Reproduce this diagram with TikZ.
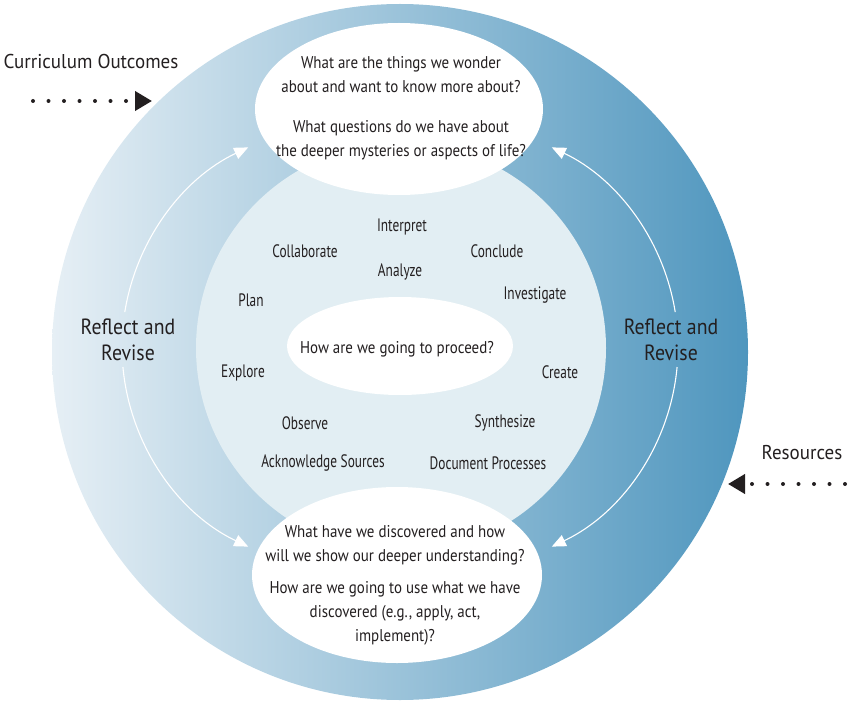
\documentclass[tikz,border=0pt]{standalone}
\usepackage{fontspec}
\setmainfont{PT Sans}
\newfontfamily\condfont[FakeStretch=0.74]{PT Sans}
\newfontfamily\qfont[FakeStretch=0.88]{PT Sans}
\newfontfamily\lfont[FakeStretch=0.95]{PT Sans}
\newfontfamily\rfont[FakeStretch=0.9]{PT Sans}
\usetikzlibrary{shapes.geometric,arrows.meta}
\definecolor{txt}{HTML}{231F20}
\definecolor{ringL}{HTML}{E6EFF5}
\definecolor{ringR}{HTML}{4F96BE}
\definecolor{disc}{HTML}{E2EEF3}
\begin{document}
\begin{tikzpicture}[x=1pt,y=-1pt,
  q/.style={text=txt,align=center,font=\qfont\fontsize{17}{24}\selectfont,inner sep=0pt},
  word/.style={text=txt,font=\condfont\fontsize{18}{20}\selectfont,inner sep=0pt},
  refl/.style={text=txt,align=center,font=\rfont\fontsize{22}{26}\selectfont,inner sep=0pt},
  lab/.style={text=txt,font=\lfont\fontsize{20}{24}\selectfont,inner sep=0pt},
  wharr/.style={draw=white,line width=1.1pt,-{Triangle[length=14pt,width=12pt,fill=white]}},
  dotarr/.style={draw=txt,line width=4pt,line cap=round,dash pattern=on 0pt off 15.5pt,
    -{Triangle[length=17pt,width=19pt,fill=txt]}},
  shp/.style={inner sep=0pt,outer sep=0pt}]
\useasboundingbox (0,0) rectangle (848,703);
% outer ring
\node[shp,circle,minimum size=696pt,left color=ringL,right color=ringR] (outer) at (400,352) {};
% inner disc
\node[shp,circle,minimum size=410pt,fill=disc] (disc) at (401,348) {};
% ellipses
\node[shp,ellipse,minimum width=288pt,minimum height=172pt,fill=white] (topq) at (399,109) {};
\node[shp,ellipse,minimum width=290pt,minimum height=176pt,fill=white] (botq) at (397,575) {};
\node[shp,ellipse,minimum width=226pt,minimum height=98pt,fill=white] (mid) at (400,346) {};
% questions
\node[q] (t1) at (401,75) {What are the things we wonder\\about and want to know more about?};
\node[q] (t2) at (401,140) {What questions do we have about\\the deeper mysteries or aspects of life?};
\node[q] (b1) at (395,545) {What have we discovered and how\\will we show our deeper understanding?};
\node[q] (b2) at (395,613) {How are we going to use what we have\\discovered (e.g., apply, act,\\implement)?};
\node[q] (midt) at (397,349) {How are we going to proceed?};
% words
\node[word] (w1) at (402,227) {Interpret};
\node[word] (w2) at (305,251) {Collaborate};
\node[word] (w3) at (497,251) {Conclude};
\node[word] (w4) at (400,272) {Analyze};
\node[word] (w5) at (251,300) {Plan};
\node[word] (w6) at (535,295) {Investigate};
\node[word] (w7) at (243,373) {Explore};
\node[word] (w8) at (560,372) {Create};
\node[word] (w9) at (305,423) {Observe};
\node[word] (w10) at (505,423) {Synthesize};
\node[word] (w11) at (323,463) {Acknowledge Sources};
\node[word] (w12) at (488,463) {Document Processes};
% reflect and revise
\node[refl] (rl) at (128,340) {Reflect and\\Revise};
\node[refl] (rr) at (671,340) {Reflect and\\Revise};
% white arcs
\draw[wharr] (343,347) ++(189.1:221) arc[start angle=189.1,end angle=244.6,radius=221];
\draw[wharr] (343,347) ++(174.8:221) arc[start angle=174.8,end angle=115.4,radius=221];
\draw[wharr] (457,347) ++(350.9:221) arc[start angle=350.9,end angle=295.4,radius=221];
\draw[wharr] (457,347) ++(5.2:221) arc[start angle=5.2,end angle=64.6,radius=221];
% side labels
\node[lab] (cur) at (91,62) {Curriculum Outcomes};
\node[lab] (res) at (802,453) {Resources};
\coordinate (cs) at (33,101);
\coordinate (ce) at (152,101);
\coordinate (rs) at (845,484);
\coordinate (re) at (728,484);
\draw[dotarr] (cs) -- (ce);
\draw[dotarr] (rs) -- (re);
\end{tikzpicture}
\end{document}
